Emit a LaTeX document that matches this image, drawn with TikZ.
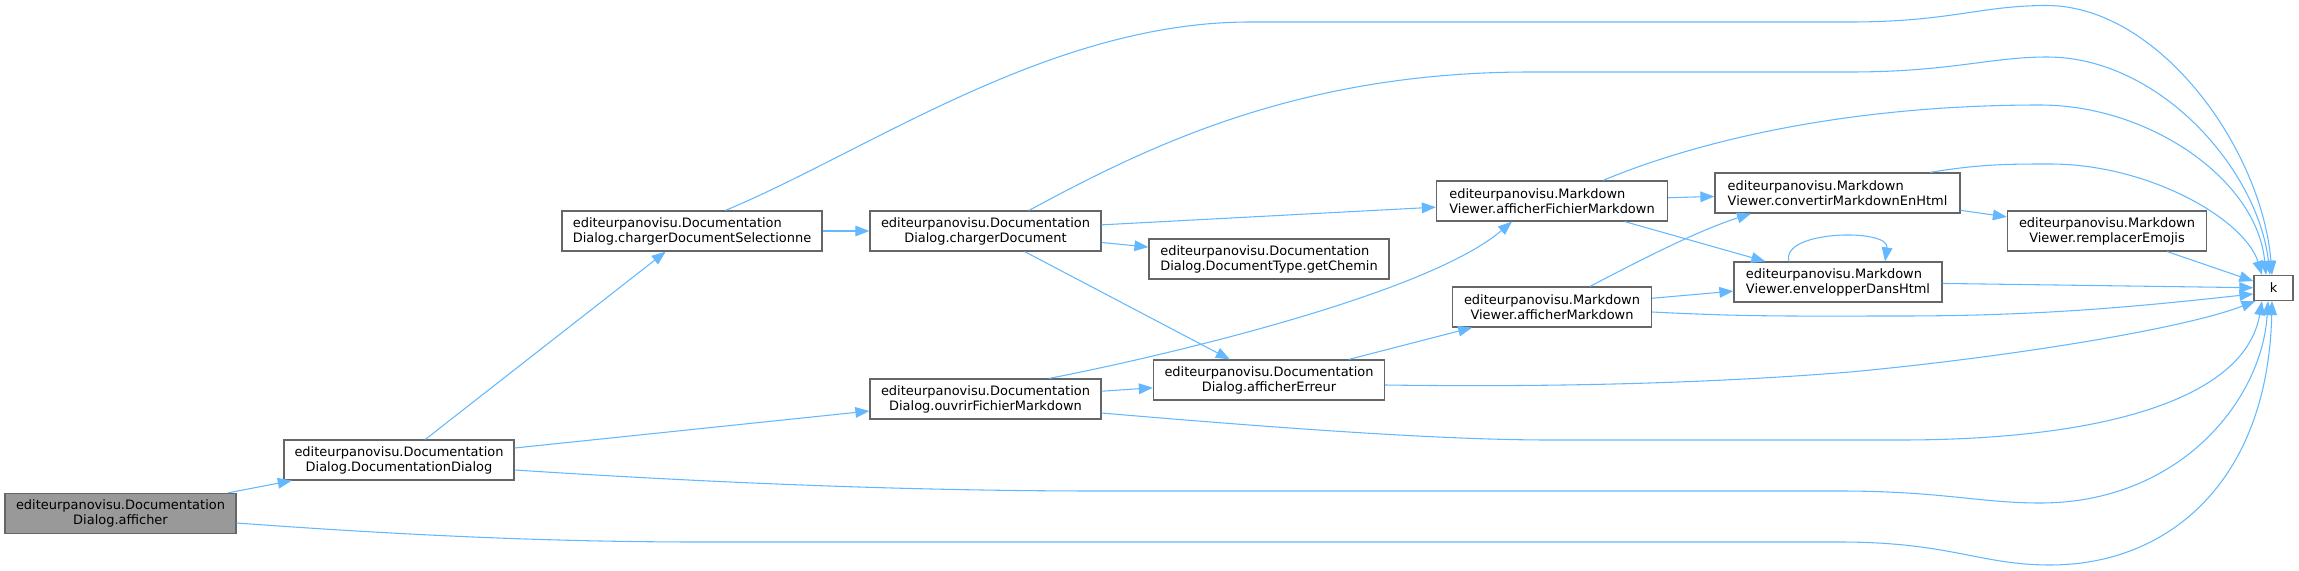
\documentclass[tikz,border=0pt]{standalone}
\usepackage{fontspec}
\setmainfont{DejaVu Sans}
\usetikzlibrary{arrows.meta,calc}
\definecolor{edgeblue}{HTML}{63B8FF}
\definecolor{nodeborder}{HTML}{666666}
\definecolor{rootfill}{HTML}{999999}
\tikzset{
  fn/.style={draw=nodeborder, fill=white, line width=0.9pt, text=black,
    font=\fontsize{9.72}{11.25}\selectfont, inner xsep=6pt, inner ysep=2pt,
    minimum height=30pt},
  fnl/.style={fn, align=left},
  fnc/.style={fn, align=center},
  root/.style={fnc, fill=rootfill},
  edge/.style={draw=edgeblue, line width=0.8pt, -{Triangle[length=10.5pt,width=8pt]}},
}
\begin{document}
\begin{tikzpicture}[x=0.75pt,y=-0.75pt]
\useasboundingbox (0,0) rectangle (2299,571);
% nodes
\node[root, minimum width=173.3pt] (afficher) at (120.5,513.5) {editeurpanovisu.Documentation\\Dialog.afficher};
\node[fnc, minimum width=172.5pt] (DocDialog) at (399,460) {editeurpanovisu.Documentation\\Dialog.DocumentationDialog};
\node[fnl, minimum width=195pt] (chargerDocSel) at (692,231) {editeurpanovisu.Documentation\\Dialog.chargerDocumentSelectionne};
\node[fnc, minimum width=173.3pt] (chargerDoc) at (985.5,231) {editeurpanovisu.Documentation\\Dialog.chargerDocument};
\node[fnc, minimum width=173.3pt] (ouvrir) at (985.5,399) {editeurpanovisu.Documentation\\Dialog.ouvrirFichierMarkdown};
\node[fnc, minimum width=173.3pt] (afErr) at (1269,380) {editeurpanovisu.Documentation\\Dialog.afficherErreur};
\node[fnl, minimum width=180pt] (getChemin) at (1269,259) {editeurpanovisu.Documentation\\Dialog.DocumentType.getChemin};
\node[fnl, minimum width=173.3pt] (aFM) at (1552,201) {editeurpanovisu.Markdown\\Viewer.afficherFichierMarkdown};
\node[fnc, minimum width=149.3pt] (aM) at (1552,307) {editeurpanovisu.Markdown\\Viewer.afficherMarkdown};
\node[fnl, minimum width=183.8pt] (convertir) at (1837.5,193) {editeurpanovisu.Markdown\\Viewer.convertirMarkdownEnHtml};
\node[fnl, minimum width=156pt] (envelopper) at (1838,282) {editeurpanovisu.Markdown\\Viewer.envelopperDansHtml};
\node[fnc, minimum width=149.3pt] (remplacer) at (2107,231) {editeurpanovisu.Markdown\\Viewer.remplacerEmojis};
\node[fnc, minimum width=29.3pt, minimum height=18.75pt] (k) at (2273.5,288) {k};
% straight edges
\draw[edge] (afficher) -- (DocDialog);
\draw[edge] (DocDialog) -- (chargerDocSel);
\draw[edge] (DocDialog) -- (ouvrir);
\draw[edge] (chargerDocSel) -- (chargerDoc);
\draw[edge] (chargerDoc) -- (aFM);
\draw[edge] (chargerDoc) -- (getChemin);
\draw[edge] (chargerDoc) -- (afErr);
\draw[edge] (ouvrir) -- (afErr);
\draw[edge] (afErr) -- (aM);
\draw[edge] (aFM) -- (convertir);
\draw[edge] (aFM) -- (envelopper);
\draw[edge] (aM) -- (envelopper);
\draw[edge] (convertir) -- (remplacer);
\draw[edge] (envelopper) -- (k);
\draw[edge] (remplacer) -- (k);
% curved edges
\draw[edge] ($(ouvrir.north)+(63.5,0)$) .. controls (1120,365) and (1420,300) .. ($(aFM.south)+(-40,0)$);
\draw[edge] ($(aM.north)+(38,0)$) .. controls (1650,255) and (1700,230) .. ($(convertir.south)+(-86.5,0)$);
\draw[edge] ($(envelopper.north)+(-49,0)$) .. controls (1780,230) and (1890,228) .. ($(envelopper.north)+(47,0)$);
% edges into k from above
\draw[edge] ($(chargerDocSel.north)+(33.5,0)$) .. controls (870,150) and (1050,22) .. (1250,22) -- (1850,22) .. controls (1950,22) and (1980,5.5) .. (2047,5.5) .. controls (2160,6) and (2262,150) .. ($(k.north)+(-1.5,0)$);
\draw[edge] ($(chargerDoc.north)+(43.5,0)$) .. controls (1150,145) and (1300,72) .. (1530,72) -- (1850,72) .. controls (1950,72) and (1990,57) .. (2047,57) .. controls (2160,57) and (2258,170) .. ($(k.north)+(-3.5,0)$);
\draw[edge] ($(aFM.north)+(51,0)$) .. controls (1700,140) and (1850,105) .. (2040,105) .. controls (2150,105) and (2257,180) .. ($(k.north)+(-7.5,0)$);
\draw[edge] ($(convertir.north)+(92.5,0)$) .. controls (1980,164) and (2010,164) .. (2050,164) .. controls (2150,164) and (2245,220) .. ($(k.north)+(-11.5,0)$);
% edges into k from below
\draw[edge] ($(aM.east)+(0,5)$) .. controls (1750,317) and (1800,316) .. (1900,316) .. controls (2050,316) and (2150,305) .. ($(k.west)+(0,6)$);
\draw[edge] ($(afErr.east)+(0,5)$) .. controls (1600,388) and (1750,380) .. (1850,372) .. controls (2000,358) and (2180,330) .. ($(k.south west)+(2,0)$);
\draw[edge] ($(ouvrir.east)+(0,14)$) .. controls (1300,430) and (1450,440) .. (1550,440) -- (1900,440) .. controls (2100,440) and (2245,400) .. ($(k.south)+(-11.5,0)$);
\draw[edge] ($(DocDialog.east)+(0,10)$) .. controls (700,482) and (900,491) .. (1100,491) -- (1840,491) .. controls (1940,491) and (1980,503) .. (2040,503) .. controls (2180,503) and (2262,400) .. ($(k.south)+(-5.5,0)$);
\draw[edge] ($(afficher.east)+(0,9.5)$) .. controls (400,535) and (550,542) .. (700,542) -- (1840,542) .. controls (1950,542) and (1980,565) .. (2050,565) .. controls (2170,565) and (2268,480) .. ($(k.south)+(-1.5,0)$);
\end{tikzpicture}
\end{document}
